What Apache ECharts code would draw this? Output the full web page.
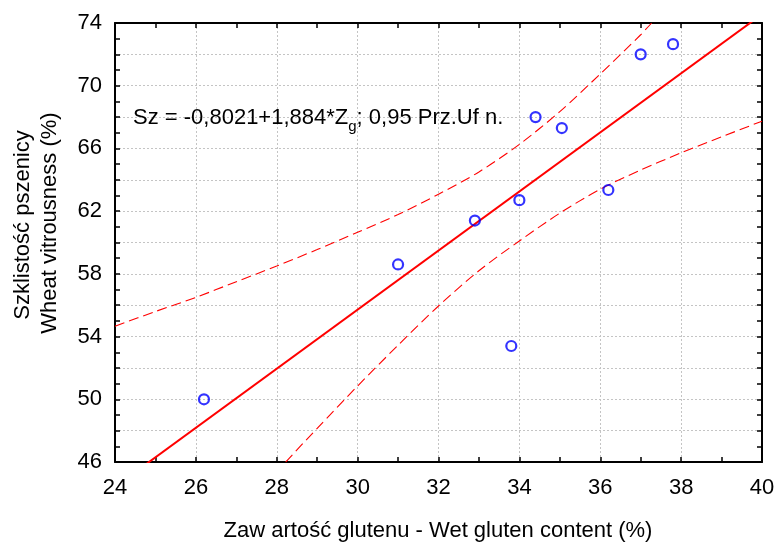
<!DOCTYPE html>
<html>
<head>
<meta charset="utf-8">
<script src="https://cdn.jsdelivr.net/npm/echarts@6/dist/echarts.min.js"></script>
<style>
  html, body { margin: 0; padding: 0; background: #ffffff; }
  #chart { width: 778px; height: 546px; }
</style>
</head>
<body>
<div id="chart"></div>
<script>
// Wet gluten content (%) and wheat vitrousness (%) per sample
const glutenContent = [26.2, 31.0, 32.9, 33.8, 34.0, 34.4, 35.05, 36.2, 37.0, 37.8];
const vitrousness   = [50.0, 58.6, 61.4, 53.4, 62.7, 68.0, 67.3, 63.35, 72.0, 72.65];

// Fitted line: Sz = -0,8021 + 1,884 * Zg
const fitIntercept = -0.8021;
const fitSlope = 1.884;
const fitRange = [24, 40];

// 0.95 confidence band of the fit
const upperBandX = [24, 25, 26, 27, 28, 29, 30, 31, 32, 33, 34, 35, 36, 37, 37.27];
const upperBandY = [54.66, 55.6, 56.5, 57.5, 58.5, 59.55, 60.65, 61.78, 63.08, 64.5, 66.26, 68.35, 70.75, 73.25, 74.0];
const lowerBandX = [28.22, 29, 30, 31, 32, 33, 34, 35, 36, 37, 38, 39, 40];
const lowerBandY = [46.0, 48.15, 50.85, 53.45, 55.95, 58.2, 60.1, 61.87, 63.4, 64.62, 65.72, 66.74, 67.74];

// Axis ranges and labelled ticks
const xRange = [24, 40];
const yRange = [46, 74];
const yLabelValues = [46, 50, 54, 58, 62, 66, 70, 74];

// Texts
const equationMain = 'Sz = -0,8021+1,884*Z';
const equationSub = 'g';
const equationTail = '; 0,95 Prz.Uf n.';
const xTitle = 'Zaw artość glutenu - Wet gluten content (%)';
const yTitleLines = ['Szklistość pszenicy', 'Wheat vitrousness (%)'];

const FONT = "'Liberation Sans', Arial, Helvetica, sans-serif";
const FONT_SIZE = 22;
const SUB_SIZE = 15;

const chart = echarts.init(document.getElementById('chart'), null, { renderer: 'canvas' });

const pairs = (xs, ys) => xs.map((x, i) => [x, ys[i]]);

// text widths for placing the subscript inside the equation
const measureCtx = document.createElement('canvas').getContext('2d');
function textWidth(str, size) {
  measureCtx.font = size + 'px ' + FONT;
  return measureCtx.measureText(str).width;
}

const frameLine = { show: true, onZero: false, lineStyle: { color: '#000000', width: 2 } };
const tickStyle = { color: '#000000', width: 1.5 };
const gridLine = { show: true, lineStyle: { color: '#c4c4c4', type: [2, 2], width: 1 } };

function xAxisDef(position, withLabels) {
  return {
    type: 'value', position: position,
    min: xRange[0], max: xRange[1], interval: 2,
    axisLine: frameLine,
    axisTick: { show: true, inside: true, length: 5, lineStyle: tickStyle },
    minorTick: { show: true, splitNumber: 2, length: 5, lineStyle: tickStyle },
    splitLine: withLabels ? gridLine : { show: false },
    axisLabel: withLabels
      ? { show: true, margin: 15, color: '#000000', fontSize: FONT_SIZE, fontFamily: FONT }
      : { show: false }
  };
}

function yAxisDef(position, withLabels) {
  return {
    type: 'value', position: position,
    min: yRange[0], max: yRange[1], interval: 2,
    axisLine: frameLine,
    axisTick: { show: true, inside: true, length: 5, lineStyle: tickStyle },
    minorTick: { show: true, splitNumber: 2, length: 5, lineStyle: tickStyle },
    splitLine: withLabels ? gridLine : { show: false },
    axisLabel: withLabels
      ? {
          show: true, margin: 13, color: '#000000', fontSize: FONT_SIZE, fontFamily: FONT,
          formatter: v => (yLabelValues.indexOf(v) >= 0 ? String(v) : '')
        }
      : { show: false }
  };
}

const bandStyle = { color: '#ff0000', width: 1.1, type: [10, 5] };

const eqX = 133;
const eqY = 117.5;
const mainW = textWidth(equationMain, FONT_SIZE);
const subW = textWidth(equationSub, SUB_SIZE);

const option = {
  backgroundColor: '#ffffff',
  animation: false,
  grid: { left: 115, right: 16, top: 23, bottom: 84, containLabel: false },
  xAxis: [xAxisDef('bottom', true), xAxisDef('top', false)],
  yAxis: [yAxisDef('left', true), yAxisDef('right', false)],
  series: [
    {
      name: 'fit', type: 'line', xAxisIndex: 0, yAxisIndex: 0,
      data: fitRange.map(x => [x, fitIntercept + fitSlope * x]),
      showSymbol: false, clip: true, z: 3,
      itemStyle: { color: '#ff0000' },
      lineStyle: { color: '#ff0000', width: 2 }
    },
    {
      name: 'upper', type: 'line', xAxisIndex: 0, yAxisIndex: 0,
      data: pairs(upperBandX, upperBandY),
      showSymbol: false, smooth: 0.3, clip: true, z: 3,
      itemStyle: { color: '#ff0000' },
      lineStyle: bandStyle
    },
    {
      name: 'lower', type: 'line', xAxisIndex: 0, yAxisIndex: 0,
      data: pairs(lowerBandX, lowerBandY),
      showSymbol: false, smooth: 0.3, clip: true, z: 3,
      itemStyle: { color: '#ff0000' },
      lineStyle: bandStyle
    },
    {
      name: 'samples', type: 'scatter', xAxisIndex: 0, yAxisIndex: 0,
      data: pairs(glutenContent, vitrousness),
      symbol: 'circle', symbolSize: 10, z: 5,
      itemStyle: { color: 'rgba(255,255,255,0)', borderColor: '#0000ff', borderWidth: 2.2 }
    }
  ],
  graphic: [
    {
      type: 'text', x: eqX, y: eqY, z: 10,
      style: { text: equationMain, fontSize: FONT_SIZE, fontFamily: FONT, fill: '#000000', align: 'left', verticalAlign: 'middle' }
    },
    {
      type: 'text', x: eqX + mainW, y: eqY + 9, z: 10,
      style: { text: equationSub, fontSize: SUB_SIZE, fontFamily: FONT, fill: '#000000', align: 'left', verticalAlign: 'middle' }
    },
    {
      type: 'text', x: eqX + mainW + subW, y: eqY, z: 10,
      style: { text: equationTail, fontSize: FONT_SIZE, fontFamily: FONT, fill: '#000000', align: 'left', verticalAlign: 'middle' }
    },
    {
      type: 'text', x: 438, y: 531, z: 10,
      style: { text: xTitle, fontSize: FONT_SIZE, fontFamily: FONT, fill: '#000000', align: 'center', verticalAlign: 'middle' }
    },
    {
      type: 'text', x: 23, y: 225, rotation: Math.PI / 2, z: 10,
      style: { text: yTitleLines[0], fontSize: FONT_SIZE, fontFamily: FONT, fill: '#000000', align: 'center', verticalAlign: 'middle' }
    },
    {
      type: 'text', x: 50, y: 223, rotation: Math.PI / 2, z: 10,
      style: { text: yTitleLines[1], fontSize: FONT_SIZE, fontFamily: FONT, fill: '#000000', align: 'center', verticalAlign: 'middle' }
    }
  ]
};

chart.setOption(option);
</script>
</body>
</html>
